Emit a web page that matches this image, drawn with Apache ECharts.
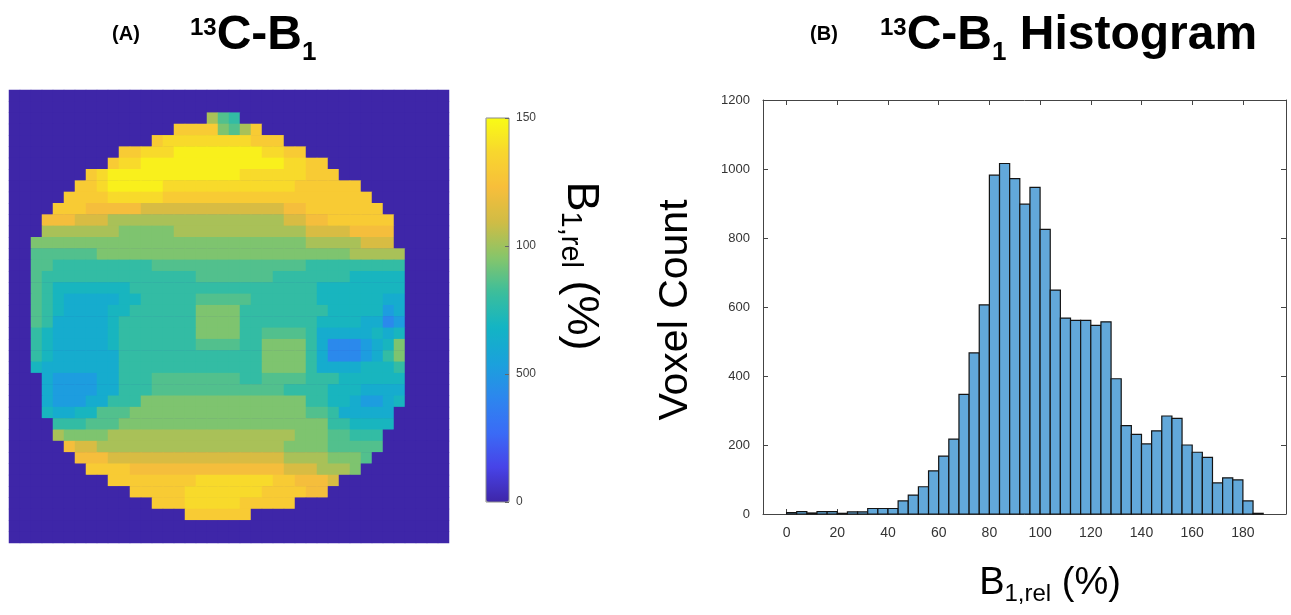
<!DOCTYPE html>
<html>
<head>
<meta charset="utf-8">
<title>13C-B1 map and histogram</title>
<script src="https://cdn.jsdelivr.net/npm/echarts@6.0.0/dist/echarts.min.js"></script>
<style>
  html, body { margin: 0; padding: 0; background: #fff; }
  #main { width: 1291px; height: 615px; }
</style>
</head>
<body>
<div id="main"></div>
<script>
// ---- (B) histogram: 4 % wide bins, voxel counts
var binWidth = 4;
var binLefts = [0, 4, 8, 12, 16, 20, 24, 28, 32, 36, 40, 44, 48, 52, 56, 60,
  64, 68, 72, 76, 80, 84, 88, 92, 96, 100, 104, 108, 112, 116, 120, 124, 128,
  132, 136, 140, 144, 148, 152, 156, 160, 164, 168, 172, 176, 180, 184];
var voxelCounts = [4, 7, 3, 7, 7, 2, 6, 6, 16, 16, 16, 38, 55, 79, 125, 168,
  217, 347, 467, 606, 982, 1016, 972, 898, 947, 825, 649, 568, 561, 561, 547,
  557, 392, 256, 231, 203, 241, 284, 277, 200, 179, 164, 90, 105, 99, 38, 2];
var histTicks = [0, 20, 40, 60, 80, 100, 120, 140, 160, 180];

// ---- (A) B1 map, 40 x 40 cells
// each row: [first column inside the phantom, runs of "<level><count>"]
var mapSize = 40;
var levelValues = { '1': 42, '2': 52, '3': 62, '4': 70, '5': 79, '6': 86, '7': 94,
  '8': 102, '9': 112, 'a': 122, 'b': 130, 'c': 138, 'd': 146 };
var mapRows = [
  null,
  null,
  [18, '81 61 51'],
  [15, 'b4 71 61 81 b1'],
  [13, 'b1 c8 b3'],
  [10, 'b2 c3 d8 c2 b2'],
  [9, 'b1 c2 d13 c2 b2'],
  [7, 'b1 c1 d12 c6 b3'],
  [6, 'b2 c1 d5 c12 b6'],
  [5, 'b4 c5 b19'],
  [4, 'b3 a5 913 a2 b7'],
  [3, 'a3 93 816 92 a2 b6'],
  [3, '87 75 812 94 a4'],
  [2, '725 85 93'],
  [2, '66 723 85'],
  [2, '62 59 614 59'],
  [2, '61 514 67 57 45'],
  [2, '61 51 47 517 48'],
  [2, '61 51 41 35 42 55 65 56 46 32'],
  [2, '61 51 41 34 42 56 74 58 45 21 31'],
  [2, '61 51 35 41 57 74 57 44 32 11 21'],
  [2, '51 41 35 41 57 74 52 64 51 35 41 31 41'],
  [2, '51 41 35 41 57 64 52 74 51 31 13 21 31 41 71'],
  [2, '51 41 36 513 74 51 31 13 21 31 51 71'],
  [2, '41 31 36 513 74 51 34 42 41 51'],
  [3, '31 24 32 53 68 52 64 53 46'],
  [3, '31 24 32 53 612 54 43 34'],
  [3, '31 23 32 53 715 52 42 31 22 31 41'],
  [3, '41 32 42 63 716 62 51 35'],
  [4, '53 63 719 52 44'],
  [4, '81 74 817 73 62 53'],
  [5, 'a1 92 817 74 65'],
  [6, 'a3 916 84 73 61'],
  [7, 'b4 a14 93 83 71'],
  [9, 'b8 c7 b2 a3 91'],
  [11, 'b5 c7 b4 a2'],
  [13, 'b3 c5 b5'],
  [16, 'b6'],
  null,
  null
];

// colour bar
var cbarTicks = [0, 50, 100, 150];
var cbarLabels = ['0', '500', '100', '150'];
var parula = ['#3E26A8', '#4743E8', '#3A6CF6', '#2C87EE', '#1AA2DB', '#13B4C4',
  '#3BBE9C', '#86C56A', '#CFBC45', '#F7BE3B', '#F8D62E', '#F9FB15'];

var font = 'Liberation Sans, Arial, sans-serif';

// decode the map rows into heatmap cells
var mapIdx = [];
for (var i = 0; i < mapSize; i++) mapIdx.push(String(i));
var mapData = [];
mapRows.forEach(function (row, r) {
  var vals = [];
  for (var c = 0; c < mapSize; c++) vals.push(0);
  if (row) {
    var col = row[0];
    row[1].split(' ').forEach(function (run) {
      var v = levelValues[run.charAt(0)];
      var n = parseInt(run.slice(1), 10);
      for (var k = 0; k < n; k++) vals[col++] = v;
    });
  }
  vals.forEach(function (v, c) { mapData.push([c, r, v]); });
});

var histData = binLefts.map(function (x, i) {
  return [x, x + binWidth, voxelCounts[i]];
});

var chart = echarts.init(document.getElementById('main'));

var boxLine = { show: true, onZero: false, lineStyle: { color: '#444', width: 1 } };
var boxTick = { show: true, inside: true, length: 5, lineStyle: { color: '#444' } };

var option = {
  animation: false,
  backgroundColor: '#fff',
  grid: [
    { left: 9, top: 90, width: 440, height: 453, show: true,
      backgroundColor: '#3E26A8', borderWidth: 0 },
    { left: 763, top: 100, width: 523, height: 414 },
    { left: 486, top: 118, width: 23, height: 384, show: true, z: 10,
      borderColor: '#8a8a8a', borderWidth: 1, backgroundColor: 'transparent' }
  ],
  xAxis: [
    { gridIndex: 0, type: 'category', data: mapIdx, show: false },
    { gridIndex: 1, type: 'value', min: -9.3, max: 197, position: 'bottom',
      axisLine: boxLine,
      axisTick: Object.assign({ customValues: histTicks }, boxTick),
      axisLabel: { customValues: histTicks, fontSize: 14, color: '#333',
        fontFamily: font, margin: 12 },
      splitLine: { show: false } },
    { gridIndex: 1, type: 'value', min: -9.3, max: 197, position: 'top',
      axisLine: boxLine,
      axisTick: Object.assign({ customValues: histTicks }, boxTick),
      axisLabel: { show: false }, splitLine: { show: false } },
    { gridIndex: 2, type: 'value', show: false }
  ],
  yAxis: [
    { gridIndex: 0, type: 'category', data: mapIdx, inverse: true, show: false },
    { gridIndex: 1, type: 'value', min: 0, max: 1200, interval: 200,
      position: 'left', axisLine: boxLine, axisTick: boxTick,
      axisLabel: { fontSize: 13, color: '#333', fontFamily: font, margin: 13,
        formatter: function (v) { return String(v); } },
      splitLine: { show: false } },
    { gridIndex: 1, type: 'value', min: 0, max: 1200, interval: 200,
      position: 'right', axisLine: boxLine, axisTick: boxTick,
      axisLabel: { show: false }, splitLine: { show: false } },
    { gridIndex: 2, type: 'value', min: 0, max: 150, interval: 50, z: 12,
      position: 'right', axisLine: { show: false, onZero: false },
      axisTick: { show: true, inside: true, length: 4, lineStyle: { color: '#666' } },
      axisLabel: { fontSize: 12, color: '#404040', fontFamily: font, margin: 7,
        formatter: function (v) { return cbarLabels[cbarTicks.indexOf(v)]; } },
      splitLine: { show: false } }
  ],
  visualMap: {
    type: 'continuous',
    seriesIndex: 0,
    dimension: 2,
    min: 0,
    max: 150,
    calculable: false,
    hoverLink: false,
    left: 486,
    top: 118,
    padding: 0,
    itemWidth: 23,
    itemHeight: 384,
    inRange: { color: parula }
  },
  graphic: [
    { type: 'text', x: 126, y: 34,
      style: { text: '(A)', font: 'bold 20px ' + font, fill: '#000',
        align: 'center', verticalAlign: 'middle' } },
    { type: 'text', x: 190, y: 8,
      style: { text: '{sup|13}{big|C-B}{sub|1}', fill: '#000',
        align: 'left', verticalAlign: 'top',
        rich: {
          sup: { fontSize: 24, fontWeight: 'bold', fontFamily: font, lineHeight: 24,
            padding: [8, 0, 0, 0], verticalAlign: 'top' },
          big: { fontSize: 48, fontWeight: 'bold', fontFamily: font, lineHeight: 56,
            verticalAlign: 'middle' },
          sub: { fontSize: 26, fontWeight: 'bold', fontFamily: font, lineHeight: 26,
            padding: [32, 0, 0, 0], verticalAlign: 'top' }
        } } },
    { type: 'text', x: 824, y: 34,
      style: { text: '(B)', font: 'bold 20px ' + font, fill: '#000',
        align: 'center', verticalAlign: 'middle' } },
    { type: 'text', x: 880, y: 8,
      style: { text: '{sup|13}{big|C-B}{sub|1}{big| Histogram}', fill: '#000',
        align: 'left', verticalAlign: 'top',
        rich: {
          sup: { fontSize: 24, fontWeight: 'bold', fontFamily: font, lineHeight: 24,
            padding: [8, 0, 0, 0], verticalAlign: 'top' },
          big: { fontSize: 48, fontWeight: 'bold', fontFamily: font, lineHeight: 56,
            verticalAlign: 'middle' },
          sub: { fontSize: 26, fontWeight: 'bold', fontFamily: font, lineHeight: 26,
            padding: [32, 0, 0, 0], verticalAlign: 'top' }
        } } },
    // colour bar label, reads top to bottom
    { type: 'text', x: 580, y: 266, rotation: -Math.PI / 2,
      style: { text: '{n|B}{s|1,rel}{n| (%)}', fill: '#000',
        align: 'center', verticalAlign: 'middle',
        rich: {
          n: { fontSize: 45, fontFamily: font, lineHeight: 50, verticalAlign: 'middle' },
          s: { fontSize: 29, fontFamily: font, lineHeight: 29,
            padding: [21, 0, 0, 0], verticalAlign: 'top' }
        } } },
    { type: 'text', x: 676, y: 310, rotation: Math.PI / 2,
      style: { text: 'Voxel Count', font: '41px ' + font, fill: '#000',
        align: 'center', verticalAlign: 'middle' } },
    { type: 'text', x: 1050, y: 584,
      style: { text: '{n|B}{s|1,rel}{n| (%)}', fill: '#000',
        align: 'center', verticalAlign: 'middle',
        rich: {
          n: { fontSize: 38, fontFamily: font, lineHeight: 44, verticalAlign: 'middle' },
          s: { fontSize: 24, fontFamily: font, lineHeight: 24,
            padding: [20, 0, 0, 0], verticalAlign: 'top' }
        } } }
  ],
  series: [
    {
      name: 'B1 map',
      type: 'heatmap',
      xAxisIndex: 0,
      yAxisIndex: 0,
      data: mapData,
      itemStyle: { borderWidth: 0 },
      emphasis: { disabled: true },
      silent: true
    },
    {
      name: 'Histogram',
      type: 'custom',
      xAxisIndex: 1,
      yAxisIndex: 1,
      data: histData,
      encode: { x: [0, 1], y: 2 },
      silent: true,
      renderItem: function (params, api) {
        var topLeft = api.coord([api.value(0), api.value(2)]);
        var bottomRight = api.coord([api.value(1), 0]);
        return {
          type: 'rect',
          shape: {
            x: topLeft[0],
            y: topLeft[1],
            width: bottomRight[0] - topLeft[0],
            height: bottomRight[1] - topLeft[1]
          },
          style: { fill: '#62A8DA', stroke: '#141414', lineWidth: 1.2 }
        };
      }
    }
  ]
};

chart.setOption(option);
</script>
</body>
</html>
